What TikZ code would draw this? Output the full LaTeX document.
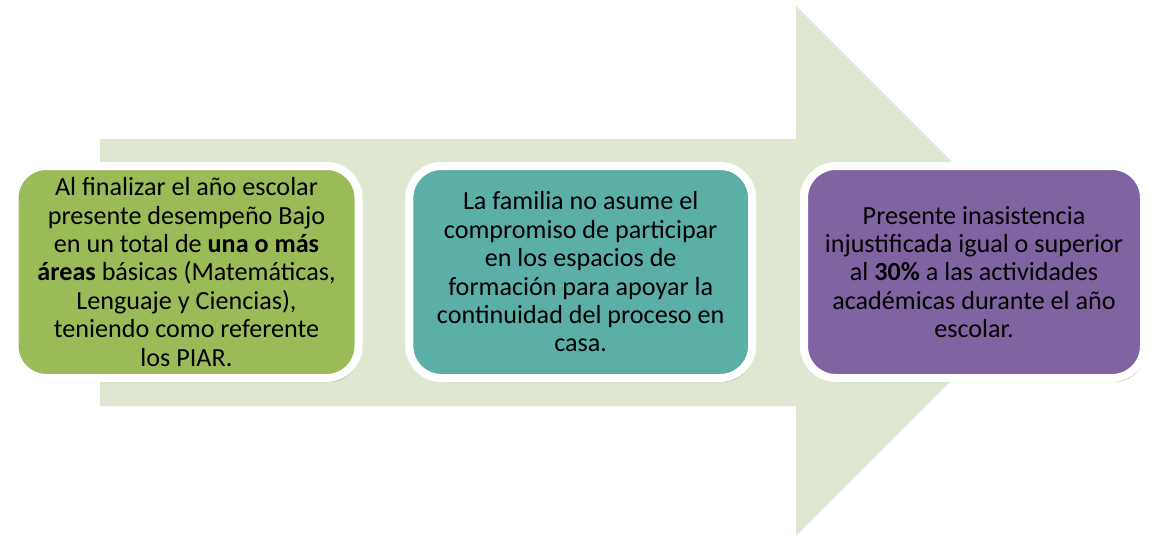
\documentclass[tikz,border=0pt]{standalone}
\usepackage{fontspec}
\setmainfont{Carlito}
\usepackage{xcolor}
\usetikzlibrary{shadows}
\definecolor{arrowfill}{HTML}{DFE7D3}
\definecolor{boxgreen}{HTML}{9BBB59}
\definecolor{boxteal}{HTML}{5BAFA7}
\definecolor{boxpurple}{HTML}{8064A2}

\begin{document}
\begin{tikzpicture}[x=0.75pt,y=0.75pt,yscale=-1,xscale=1,
    stepbox/.style={draw=white,line width=6pt,rounded corners=24pt,
        minimum width=258pt,minimum height=159pt,inner sep=0pt,
        align=center,text=black,font=\fontsize{19.6}{21.3}\selectfont,
        drop shadow={shadow xshift=1.5pt,shadow yshift=-3pt,opacity=0.45,fill=black!70}}]
    \useasboundingbox (0,0) rectangle (1150,536);
    %Shape: Right Arrow [id:arrow]
    \fill[arrowfill] (100,139) -- (796,139) -- (796,6) -- (1061,271) -- (796,536) -- (796,406) -- (100,406) -- cycle;
    % Text Node
    \node[stepbox,fill=boxgreen] (bajo) at (186.5,272) {Al finalizar el año escolar\\presente desempeño Bajo\\en un total de \textbf{una o más}\\\textbf{áreas} básicas (Matemáticas,\\Lenguaje y Ciencias),\\teniendo como referente\\los PIAR.};
    % Text Node
    \node[stepbox,fill=boxteal,minimum width=257pt] (familia) at (580.7,272) {La familia no asume el\\compromiso de participar\\en los espacios de\\formación para apoyar la\\continuidad del proceso en\\casa.};
    % Text Node
    \node[stepbox,fill=boxpurple,minimum width=255pt] (asistencia) at (974,272) {Presente inasistencia\\injustificada igual o superior\\al \textbf{30\%} a las actividades\\académicas durante el año\\escolar.};
\end{tikzpicture}
\end{document}
